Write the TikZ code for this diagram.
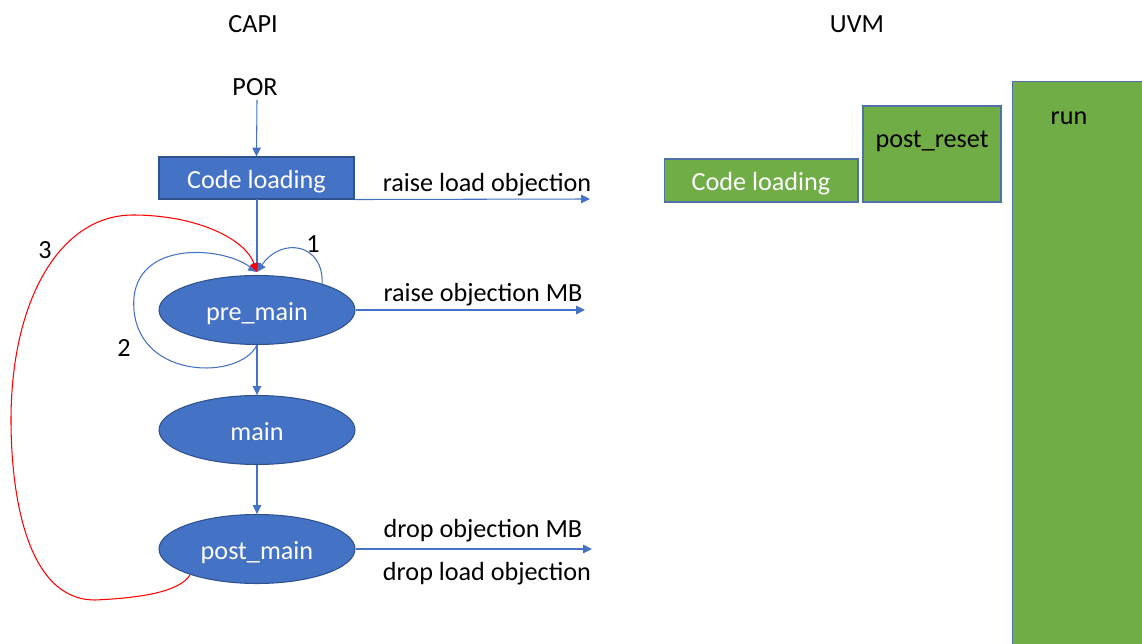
\documentclass[tikz,border=0pt]{standalone}
\usepackage{fontspec}
\setmainfont{Carlito}
\usetikzlibrary{arrows.meta,shapes.geometric}
\definecolor{capiblue}{HTML}{4472C4}
\definecolor{capiedge}{HTML}{2F528F}
\definecolor{uvmgreen}{HTML}{70AD47}
\definecolor{uvmedge}{HTML}{4F71A8}
\definecolor{loopred}{HTML}{FF0000}
\begin{document}
\begin{tikzpicture}[x=0.02cm, y=-0.02cm,
  font=\fontsize{14.9}{17}\selectfont,
  flow/.style={draw=capiblue, line width=0.6pt, -{Triangle[length=5pt,width=4.8pt]}},
  backloop/.style={draw=loopred, line width=0.6pt, -{Triangle[length=5pt,width=4.8pt]}},
  txt/.style={text height=11.6pt, text depth=0pt},
  capibox/.style={rectangle, fill=capiblue, draw=capiedge, line width=0.6pt,
    minimum width=3.9cm, minimum height=0.84cm, inner sep=0pt, text=white, txt},
  stage/.style={ellipse, fill=capiblue, draw=capiedge, line width=0.6pt,
    minimum width=3.92cm, minimum height=1.38cm, inner sep=0pt, text=white, txt},
  uvmbox/.style={rectangle, fill=uvmgreen, draw=uvmedge, line width=0.6pt, inner sep=0pt, txt},
  plain/.style={inner sep=0pt, text=black, txt}]
\useasboundingbox (0,0) rectangle (1142,644);

% column titles
\node[plain] (capi) at (253,22) {CAPI};
\node[plain] (uvm) at (857,22) {UVM};

% CAPI flow
\node[plain] (por) at (255,85) {POR};
\node[capibox] (load) at (256.5,178) {Code loading};
\node[stage] (pre) at (257,310) {pre\_main};
\node[stage] (mainst) at (257,430) {main};
\node[stage] (post) at (257,549) {post\_main};

\coordinate (porout) at (257,100);
\coordinate (loadout) at (257,199);
\coordinate (preentry) at (257,272);
\draw[flow] (porout) -- (load.north);
\draw[flow] (loadout) -- (preentry);
\draw[flow] (pre.south) -- (mainst.north);
\draw[flow] (mainst.south) -- (post.north);

% objection arrows
\coordinate (loadobj) at (590,199);
\coordinate (preobj) at (585,310);
\coordinate (postobj) at (592,549);
\draw[flow] (load.south east) -- (loadobj);
\draw[flow] (pre.east) -- (preobj);
\draw[flow] (post.east) -- (postobj);
\node[plain] (lraise) at (487,181) {raise load objection};
\node[plain] (praise) at (483,291) {raise objection MB};
\node[plain] (pdrop) at (483,527) {drop objection MB};
\node[plain] (pdropload) at (487,570) {drop load objection};

% loops back into pre_main
\draw[flow] (pre.22) .. controls (324,244) and (282,236) .. (preentry);
\draw[flow] (pre.south) .. controls (240,380) and (140,380) .. (134,310)
  .. controls (128,240) and (220,245) .. (preentry);
\draw[backloop] (post.201) .. controls (180,592) and (140,598) .. (95,600)
  .. controls (25,600) and (11,490) .. (11,420)
  .. controls (11,300) and (60,215) .. (133,215)
  .. controls (195,215) and (245,238) .. (preentry);
\node[plain] (n1) at (313,242) {1};
\node[plain] (n2) at (124,346) {2};
\node[plain] (n3) at (45,248) {3};

% UVM phases
\node[uvmbox, minimum width=3.88cm, minimum height=0.86cm, text=white] (uload) at (761,180.5) {Code loading};
\node[uvmbox, minimum width=2.76cm, minimum height=1.92cm] (ureset) at (932,154) {};
\node[plain] (ureset text) at (932,137) {post\_reset};
\node[uvmbox, minimum width=2.7cm, minimum height=11.8cm] (urun) at (1080,376) {};
\node[plain] (urun text) at (1069,114) {run};
\end{tikzpicture}
\end{document}
